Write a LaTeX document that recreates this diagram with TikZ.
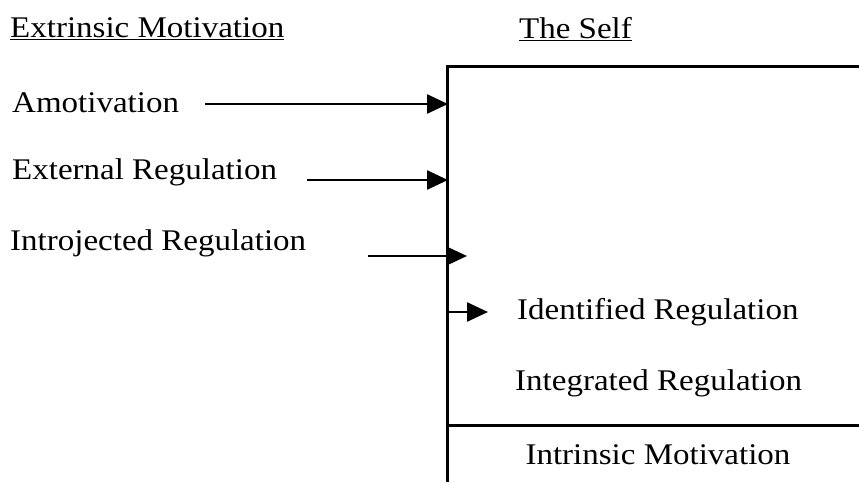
\documentclass[tikz,border=0pt]{standalone}
\usepackage{fontspec}
\setmainfont{Liberation Serif}[FakeStretch=1.1]
\usetikzlibrary{arrows.meta}
\begin{document}
\begin{tikzpicture}[x=1pt,y=-1pt,
  lbl/.style={anchor=west,inner sep=0pt,font=\fontsize{30}{34}\selectfont},
  cbl/.style={inner sep=0pt,font=\fontsize{30}{34}\selectfont},
  edge/.style={line width=3pt},
  arr/.style={line width=2.5pt,-{Triangle[length=21pt,width=19pt]}}]
\useasboundingbox (0,0) rectangle (859,482);
% box
\coordinate (tl) at (447,66);
\coordinate (tr) at (859,66);
\coordinate (bl) at (447,482);
\coordinate (ml) at (447,425);
\coordinate (mr) at (859,425);
\draw[edge] (tr) -- (tl) -- (bl);
\draw[edge] (ml) -- (mr);
% headings
\node[lbl] (ext) at (10,29) {\underline{Extrinsic Motivation}};
\node[lbl] (self) at (519,29) {\underline{The Self}};
% labels
\node[lbl] (amo) at (12,103) {Amotivation};
\node[lbl] (exr) at (12,172) {External Regulation};
\node[lbl] (intro) at (10,243) {Introjected Regulation};
\node[lbl] (iden) at (517,312) {Identified Regulation};
\node[lbl] (integ) at (515,383) {Integrated Regulation};
\node[cbl] (intr) at (658,455) {Intrinsic Motivation};
% arrows
\coordinate (a1s) at (205,104); \coordinate (a1e) at (448,104);
\coordinate (a2s) at (307,180); \coordinate (a2e) at (448,180);
\coordinate (a3s) at (368,256); \coordinate (a3e) at (467,256);
\coordinate (a4s) at (449,312); \coordinate (a4e) at (488,312);
\draw[arr] (a1s) -- (a1e);
\draw[arr] (a2s) -- (a2e);
\draw[arr] (a3s) -- (a3e);
\draw[arr] (a4s) -- (a4e);
\end{tikzpicture}
\end{document}
